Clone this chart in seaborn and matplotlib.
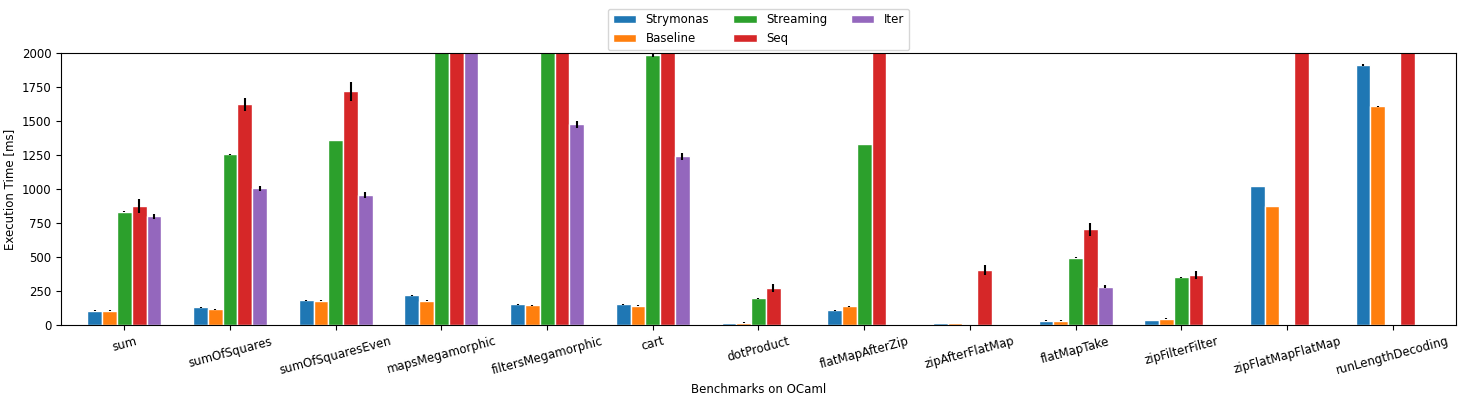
import numpy as np
import pandas as pd
import matplotlib
matplotlib.use("Agg")
import matplotlib.pyplot as plt
import seaborn as sns

benchmarks = ["sum", "sumOfSquares", "sumOfSquaresEven", "mapsMegamorphic",
              "filtersMegamorphic", "cart", "dotProduct", "flatMapAfterZip",
              "zipAfterFlatMap", "flatMapTake", "zipFilterFilter",
              "zipFlatMapFlatMap", "runLengthDecoding"]
libraries = ["Strymonas", "Baseline", "Streaming", "Seq", "Iter"]
nan = np.nan

# mean execution times in ms (values above 2000 are cut off in the chart)
strymonas = [105, 130, 182, 218, 152, 152, 17, 108, 17, 32, 39, 1021, 1912]
baseline = [105, 115, 179, 179, 145, 142, 17, 137, 17, 32, 47, 874, 1607]
streaming = [834, 1254, 1360, 2600, 2700, 1985, 196, 1330, nan, 496, 351, nan, nan]
seq = [874, 1622, 1718, 3400, 3600, 2900, 270, 2500, 402, 704, 366, 3100, 2600]
iter_ = [798, 1004, 955, 2300, 1477, 1242, nan, nan, nan, 282, nan, nan, nan]

# error bar half-widths
strymonas_err = [3, 5, 5, 4, 3, 3, 1, 2, 1, 1, 1, 1, 5]
baseline_err = [2, 2, 2, 2, 2, 2, 2, 2, 1, 1, 1, 2, 2]
streaming_err = [3, 2, 3, 0, 0, 12, 2, 2, nan, 3, 2, nan, nan]
seq_err = [49, 50, 72, 0, 0, 0, 29, 0, 36, 48, 28, 0, 0]
iter_err = [17, 17, 21, 0, 25, 25, nan, nan, nan, 10, nan, nan, nan]

values = dict(zip(libraries, [strymonas, baseline, streaming, seq, iter_]))
errors = dict(zip(libraries, [strymonas_err, baseline_err, streaming_err, seq_err, iter_err]))

rows = []
for lib in libraries:
    for b, v in zip(benchmarks, values[lib]):
        rows.append({"benchmark": b, "library": lib, "time": v})
df = pd.DataFrame(rows)

plt.rcParams["font.size"] = 8.5
fig, ax = plt.subplots(figsize=(14.63, 3.99), dpi=100)
sns.barplot(data=df, x="benchmark", y="time", hue="library", order=benchmarks,
            hue_order=libraries, palette="tab10", saturation=1, width=0.7,
            errorbar=None, edgecolor="white", linewidth=1, ax=ax)

# error bars at the bar centres
for lib, cont in zip(libraries, ax.containers):
    xs, ys, es = [], [], []
    for p in cont.patches:
        cx = p.get_x() + p.get_width() / 2
        i = int(round(cx))
        v = values[lib][i]
        if np.isnan(v):
            continue
        xs.append(cx)
        ys.append(v)
        es.append(errors[lib][i])
    ax.errorbar(xs, ys, yerr=es, fmt="none", ecolor="black", elinewidth=1.5)

ax.set_ylim(0, 2000)
ax.set_xlim(-0.6, len(benchmarks) - 0.4)
ax.set_yticks(range(0, 2001, 250))
ax.set_xlabel("Benchmarks on OCaml")
ax.set_ylabel("Execution Time [ms]")
ax.tick_params(axis="x", labelrotation=15)
ax.legend(loc="lower center", bbox_to_anchor=(0.5, 1.0), ncol=3,
          borderaxespad=0.25, title=None)

fig.subplots_adjust(left=0.0417, right=0.9952, top=0.867, bottom=0.1855)
fig.savefig("out.png", dpi=100)
